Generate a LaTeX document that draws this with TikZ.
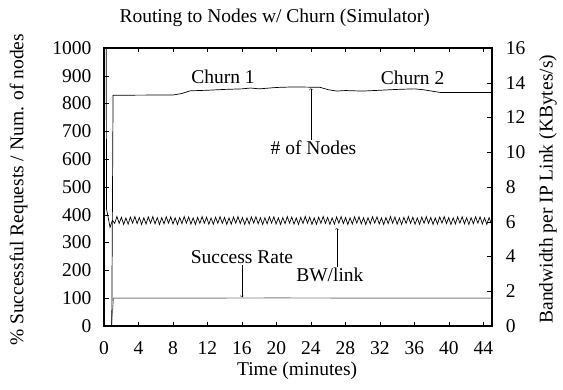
\documentclass[tikz,border=0pt]{standalone}
\usepackage{fontspec}
\setmainfont{Liberation Serif}
\tikzset{
  every node/.style={font=\fontsize{19.5}{22}\selectfont},
  ticklabel/.style={inner sep=0pt},
  curve/.style={line width=0.7pt,black},
  rate/.style={line width=0.9pt,gray},
  note/.style={inner sep=1pt}
}
\begin{document}
\begin{tikzpicture}
  \useasboundingbox (0,0) rectangle (563pt,390pt);
  \begin{scope}[shift={(104pt,64pt)},x=8.622pt,y=0.278pt]
    % ticks and tick labels
    \foreach \t in {0,4,...,44} {
      \draw (\t,0) -- (\t,16);
      \draw (\t,1000) -- (\t,984);
      \node[ticklabel] (xt\t) at (\t,-79) {\t};
    }
    \foreach \n in {0,100,...,1000} {
      \draw (0,\n) -- (0.55,\n);
      \node[ticklabel,anchor=east] (yl\n) at (-1.45,\n) {\n};
    }
    \foreach \b in {0,2,...,16} {
      \draw (45,\b*62.5) -- (44.45,\b*62.5);
      \node[ticklabel,anchor=west] (yr\b) at (46.6,\b*62.5) {\b};
    }

    % data
    \draw[rate] (0.85,0) -- (1.1,100) -- (8,100) -- (20,101) -- (33,100) -- (45,100);
    \draw[curve] (0.9,0) -- (1.05,830) -- (8,831) -- (9,836) -- (10,846) -- (12,848)
      -- (14,851) -- (16,853) -- (17,856) -- (18,853) -- (20,858) -- (22,860)
      -- (24,859) -- (25,859) -- (26,850) -- (27,845) -- (28,847) -- (30,845)
      -- (32,848) -- (34,851) -- (36,853) -- (37,850) -- (39,840) -- (45,840);
    \draw[curve] (0.25,1000) -- (0.3,420) -- (0.7,355) -- (0.98,380)
      \foreach \i in {1,...,169} { -- ({0.98+0.26*\i},{62.5*(6.07+0.19*cos(180*mod(\i,2))+0.04*sin(47*\i))}) };

    \draw[line width=1.2pt] (0,0) rectangle (45,1000);

    % labels
    \node (title) at (19.8,1108) {Routing to Nodes w/ Churn (Simulator)};
    \node (xlabel) at (22.4,-160) {Time (minutes)};
    \node[rotate=90] (ylabel) at (-9.9,490) {\% Successful Requests / Num. of nodes};
    \node[rotate=90] (y2label) at (51.5,492) {Bandwidth per IP Link (KBytes/s)};

    \node[note] (churn1) at (13.8,896) {Churn 1};
    \node[note] (churn2) at (35.8,893) {Churn 2};
    \node[note] (nodes) at (24.3,640) {\# of Nodes};
    \node[note] (success) at (16,248) {Success Rate};
    \node[note] (bw) at (26.2,183) {BW/link};

    \coordinate (nodestip) at (24,855);
    \coordinate (successtip) at (16,103);
    \coordinate (bwtip) at (27,352);
    \draw[->] (nodes.north -| nodestip) -- (nodestip);
    \draw[->] (success.south) -- (successtip);
    \draw[->] (bw.north -| bwtip) -- (bwtip);
  \end{scope}
\end{tikzpicture}
\end{document}
